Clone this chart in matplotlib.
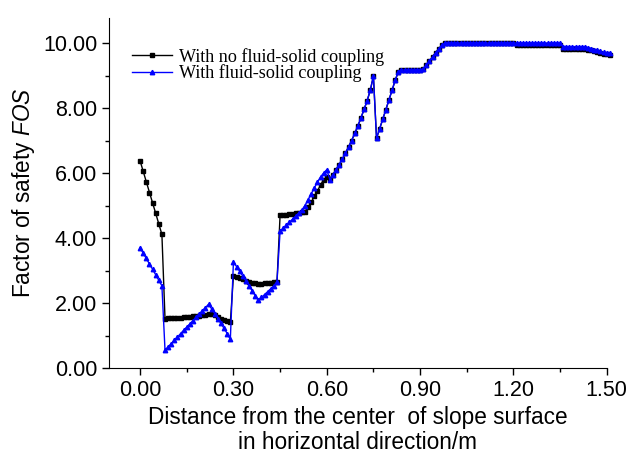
import numpy as np
import matplotlib
matplotlib.use("Agg")
import matplotlib.pyplot as plt
from matplotlib.ticker import MultipleLocator, FormatStrFormatter

plt.rcParams['font.family'] = ['Liberation Sans', 'DejaVu Sans']
plt.rcParams['mathtext.fontset'] = 'custom'
plt.rcParams['mathtext.rm'] = 'Liberation Sans'
plt.rcParams['mathtext.it'] = 'Liberation Sans:italic'

# distance from the slope centre (m), sampled every 0.01 m
distance = np.round(np.arange(0, 152) * 0.01, 2)

# factor of safety without fluid-solid coupling
fos_no_coupling = [
    6.37, 6.05, 5.72, 5.40, 5.08, 4.76, 4.43, 4.11, 1.52, 1.53,
    1.53, 1.54, 1.55, 1.55, 1.56, 1.57, 1.58, 1.59, 1.60, 1.61,
    1.62, 1.64, 1.65, 1.65, 1.62, 1.57, 1.52, 1.48, 1.45, 1.41,
    2.83, 2.80, 2.77, 2.73, 2.69, 2.65, 2.62, 2.61, 2.60, 2.60,
    2.61, 2.62, 2.63, 2.64, 2.66, 4.71, 4.71, 4.72, 4.73, 4.74,
    4.76, 4.77, 4.79, 4.81, 4.95, 5.10, 5.28, 5.45, 5.63, 5.80,
    5.88, 5.82, 5.95, 6.10, 6.26, 6.43, 6.61, 6.80, 7.00, 7.22,
    7.45, 7.70, 7.96, 8.23, 8.55, 8.98, 7.07, 7.36, 7.66, 7.95,
    8.25, 8.55, 8.85, 9.12, 9.17, 9.17, 9.17, 9.17, 9.17, 9.18,
    9.18, 9.19, 9.31, 9.44, 9.57, 9.70, 9.82, 9.93, 10.00, 10.00,
    10.00, 10.00, 10.00, 10.00, 10.00, 10.00, 10.00, 10.00, 10.00, 10.00,
    10.00, 10.00, 10.00, 10.00, 10.00, 10.00, 10.00, 10.00, 10.00, 10.00,
    10.00, 9.95, 9.95, 9.95, 9.95, 9.95, 9.95, 9.95, 9.95, 9.95,
    9.95, 9.95, 9.95, 9.95, 9.95, 9.95, 9.82, 9.82, 9.82, 9.82,
    9.82, 9.82, 9.82, 9.82, 9.80, 9.77, 9.74, 9.71, 9.69, 9.67,
    9.65, 9.64,
]

# factor of safety with fluid-solid coupling
fos_coupling = [
    3.70, 3.53, 3.37, 3.20, 3.04, 2.87, 2.70, 2.53, 0.55, 0.65,
    0.75, 0.85, 0.95, 1.06, 1.16, 1.26, 1.36, 1.46, 1.56, 1.66,
    1.76, 1.86, 1.96, 1.82, 1.67, 1.52, 1.37, 1.22, 1.06, 0.88,
    3.27, 3.12, 2.98, 2.83, 2.68, 2.53, 2.38, 2.23, 2.08, 2.17,
    2.26, 2.35, 2.44, 2.53, 2.66, 4.21, 4.30, 4.39, 4.49, 4.58,
    4.67, 4.77, 4.86, 5.00, 5.18, 5.36, 5.54, 5.72, 5.88, 6.00,
    6.10, 5.80, 5.95, 6.10, 6.26, 6.43, 6.61, 6.80, 7.00, 7.22,
    7.45, 7.70, 7.96, 8.23, 8.55, 8.98, 7.07, 7.36, 7.66, 7.95,
    8.25, 8.55, 8.85, 9.12, 9.17, 9.17, 9.17, 9.17, 9.17, 9.18,
    9.18, 9.19, 9.31, 9.44, 9.57, 9.70, 9.82, 9.93, 10.00, 10.00,
    10.00, 10.00, 10.00, 10.00, 10.00, 10.00, 10.00, 10.00, 10.00, 10.00,
    10.00, 10.00, 10.00, 10.00, 10.00, 10.00, 10.00, 10.00, 10.00, 10.00,
    10.00, 10.00, 10.00, 10.00, 10.00, 10.00, 10.00, 10.00, 10.00, 10.00,
    10.00, 10.00, 10.00, 10.00, 10.00, 10.00, 9.89, 9.89, 9.89, 9.89,
    9.89, 9.89, 9.89, 9.89, 9.86, 9.83, 9.80, 9.77, 9.74, 9.71,
    9.69, 9.68,
]

fig = plt.figure(figsize=(6.28, 4.61), dpi=100)
ax = fig.add_axes([0.1736, 0.2017, 0.7925, 0.7593])

ax.plot(distance, fos_no_coupling, color='black', lw=1.0, marker='s', ms=2.6,
        label='With no fluid-solid coupling', clip_on=False)
ax.plot(distance, fos_coupling, color='#0000ff', lw=1.0, marker='^', ms=3.2,
        label='With fluid-solid coupling', clip_on=False)

ax.set_xlim(-0.1, 1.5)
ax.set_ylim(0, 10.77)
ax.xaxis.set_major_locator(MultipleLocator(0.3))
ax.xaxis.set_minor_locator(MultipleLocator(0.15))
ax.yaxis.set_major_locator(MultipleLocator(2))
ax.yaxis.set_minor_locator(MultipleLocator(1))
ax.xaxis.set_major_formatter(FormatStrFormatter('%.2f'))
ax.yaxis.set_major_formatter(FormatStrFormatter('%.2f'))
ax.tick_params(which='major', direction='out', length=5, width=1, labelsize=15.5)
ax.tick_params(which='minor', direction='out', length=3, width=1)
ax.spines['top'].set_visible(False)
ax.spines['right'].set_visible(False)

ax.set_xlabel('Distance from the center  of slope surface\nin horizontal direction/m',
              fontsize=16.3, linespacing=1.1)
ax.set_ylabel('Factor of safety $\\mathit{FOS}$', fontsize=16.3)

ax.legend(loc='upper left', bbox_to_anchor=(0.047, 0.915), frameon=False,
          numpoints=1, borderaxespad=0, borderpad=0, handlelength=2.2,
          handletextpad=0.35, labelspacing=-0.08,
          prop={'family': 'Liberation Serif', 'size': 13.1})

plt.savefig('out.png', dpi=100)
